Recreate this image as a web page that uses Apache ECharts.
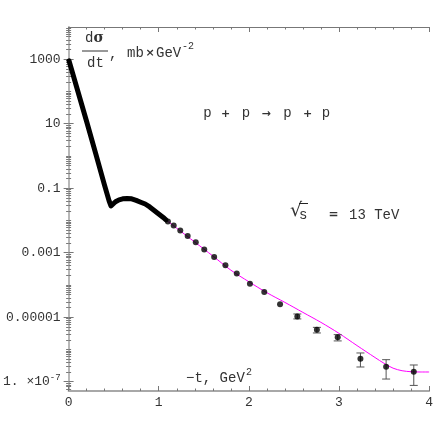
<!DOCTYPE html>
<html><head><meta charset="utf-8">
<script src="https://cdn.jsdelivr.net/npm/echarts@6/dist/echarts.min.js"></script>
<style>html,body{margin:0;padding:0;background:#fff}#c{width:436px;height:436px}</style>
</head><body><div id="c"></div>
<script>
// dense measured curve (thick black)
const denseT = [0.005,0.1,0.2,0.3,0.4,0.45,0.47,0.49,0.52,0.56,0.6,0.65,0.7,0.75,0.8,0.85,0.9,0.95,1.0,1.05,1.08];
const denseY = [891,107,11.7,1.2,0.120,0.0398,0.0282,0.0316,0.0380,0.0437,0.0468,0.0482,0.0468,0.0420,0.0368,0.0324,0.0263,0.0205,0.0160,0.0124,0.0105];
// discrete data points
const pointT = [1.102,1.166,1.239,1.321,1.411,1.505,1.615,1.740,1.866,2.012,2.171,2.346,2.538,2.755,2.986,3.238,3.523,3.830];
const pointY = [0.00931,0.0070,0.00489,0.00330,0.00212,0.00126,7.35e-4,4.09e-4,2.26e-4,1.10e-4,6.1e-5,2.52e-5,1.06e-5,4.06e-6,2.38e-6,5.18e-7,2.92e-7,2.05e-7];
// error bars (only where visible)
const errT    = [2.538,2.755,2.986,3.238,3.523,3.830];
const errLow  = [8.85e-6,3.25e-6,1.84e-6,2.86e-7,1.21e-7,7.67e-8];
const errHigh = [1.26e-5,4.85e-6,2.88e-6,7.78e-7,4.82e-7,3.30e-7];
// model curve (magenta)
const modelT = [1.0,1.2,1.4,1.6,1.8,2.0,2.2,2.4,2.6,2.8,3.0,3.2,3.4,3.5,3.6,3.7,3.8,3.9,4.0];
const modelY = [0.0158,0.00575,0.00214,7.94e-4,2.88e-4,1.26e-4,5.75e-5,2.88e-5,1.41e-5,6.92e-6,3.16e-6,1.32e-6,5.62e-7,3.72e-7,2.63e-7,2.19e-7,2.04e-7,2.0e-7,2.0e-7];
// ticks
const xTickValues = [0,1,2,3,4];
const xTickLabels = ['0','1','2','3','4'];
const yTickValues = [1e3,10,0.1,1e-3,1e-5,1e-7];
const yTickLabels = ['1000','10','0.1','0.001','0.00001','1. ×10{s|-7}'];
const yMin = 5.15e-8, yMax = 1e4;

const xMinor = [];
for (let i = 1; i < 20; i++) { if (i % 5) xMinor.push(i * 0.2); }
const yMinor = [];
for (let n = -8; n <= 3; n++) {
  for (let k = 1; k <= 9; k++) {
    const v = k * Math.pow(10, n);
    if (k === 1 && yTickValues.some(t => Math.abs(Math.log10(t) - n) < 1e-9)) continue;
    if (v >= yMin && v <= yMax) yMinor.push(v);
  }
}

const FONT = '"Liberation Mono", "DejaVu Sans Mono", monospace';
const txtColor = '#333';
function yLabel(v) {
  const e = Math.round(Math.log10(v));
  const i = yTickValues.findIndex(t => Math.round(Math.log10(t)) === e);
  return i >= 0 ? yTickLabels[i] : '';
}
function xLabel(v) {
  const i = xTickValues.findIndex(t => Math.abs(t - v) < 1e-9);
  return i >= 0 ? xTickLabels[i] : '';
}
function mkX(pos, major, lineStyle) {
  return {
    type: 'value', min: 0, max: 4, position: pos, gridIndex: 0,
    axisLine: lineStyle ? { show: true, lineStyle } : { show: false },
    axisTick: { show: true, inside: true, length: major ? 5 : 2.5, customValues: major ? xTickValues : xMinor, lineStyle: { color: '#777', width: 1 } },
    axisLabel: (major && pos === 'bottom') ? { show: true, customValues: xTickValues, formatter: xLabel, margin: 5, fontFamily: FONT, fontSize: 13, color: txtColor } : { show: false },
    splitLine: { show: false }
  };
}
function mkY(pos, major, lineStyle) {
  return {
    type: 'log', logBase: 10, min: yMin, max: yMax, position: pos, gridIndex: 0,
    axisLine: lineStyle ? { show: true, lineStyle } : { show: false },
    axisTick: { show: true, inside: true, length: major ? 5 : 2.5, customValues: major ? yTickValues : yMinor, lineStyle: { color: '#777', width: 1 } },
    axisLabel: (major && pos === 'left') ? {
      show: true, customValues: yTickValues, formatter: yLabel, margin: 8,
      fontFamily: FONT, fontSize: 13, color: txtColor,
      rich: { s: { fontFamily: FONT, fontSize: 9, color: txtColor, verticalAlign: 'top', lineHeight: 18 } }
    } : { show: false },
    splitLine: { show: false }
  };
}
function tok(text, cx, cy, size, family, weight) {
  return { type: 'text', x: cx, y: cy, style: { text, fill: txtColor, align: 'center', verticalAlign: 'middle',
    font: (weight || 'normal') + ' ' + size + 'px ' + (family || FONT) } };
}

const chart = echarts.init(document.getElementById('c'), null, { renderer: 'canvas' });
chart.setOption({
  animation: false,
  backgroundColor: '#fff',
  grid: { left: 67, right: 4, top: 27, bottom: 45, containLabel: false },
  xAxis: [
    mkX('bottom', true, { color: '#a8a8a8', width: 2 }),
    mkX('bottom', false, null),
    mkX('top', true, { color: '#777', width: 1 }),
    mkX('top', false, null)
  ],
  yAxis: [
    mkY('left', true, { color: '#888', width: 1 }),
    mkY('left', false, null),
    mkY('right', true, { color: '#b8b8b8', width: 2 }),
    mkY('right', false, null)
  ],
  series: [
    {
      type: 'line', xAxisIndex: 0, yAxisIndex: 0, z: 2,
      data: modelT.map((t, i) => [t, modelY[i]]),
      showSymbol: false, smooth: 0.3,
      lineStyle: { color: '#ff00ff', width: 1 }
    },
    {
      type: 'line', xAxisIndex: 0, yAxisIndex: 0, z: 3,
      data: denseT.map((t, i) => [t, denseY[i]]),
      showSymbol: false, smooth: false,
      lineStyle: { color: '#000', width: 5, cap: 'round', join: 'round' }
    },
    {
      type: 'custom', xAxisIndex: 0, yAxisIndex: 0, z: 4,
      data: errT.map((t, i) => [t, errLow[i], errHigh[i]]),
      encode: { x: 0, y: [1, 2] },
      renderItem: function (params, api) {
        const x = api.value(0);
        const p1 = api.coord([x, api.value(1)]);
        const p2 = api.coord([x, api.value(2)]);
        const w = 4;
        const st = { stroke: '#555', lineWidth: 1 };
        return {
          type: 'group', children: [
            { type: 'line', shape: { x1: p1[0], y1: p1[1], x2: p2[0], y2: p2[1] }, style: st },
            { type: 'line', shape: { x1: p1[0] - w, y1: p1[1], x2: p1[0] + w, y2: p1[1] }, style: st },
            { type: 'line', shape: { x1: p2[0] - w, y1: p2[1], x2: p2[0] + w, y2: p2[1] }, style: st }
          ]
        };
      }
    },
    {
      type: 'scatter', xAxisIndex: 0, yAxisIndex: 0, z: 5,
      data: pointT.map((t, i) => [t, pointY[i]]),
      symbol: 'circle', symbolSize: 6,
      itemStyle: { color: '#000' }
    }
  ],
  graphic: [
    { type: 'text', x: 85, y: 38, style: { text: '{n|d}{g|σ}', fill: txtColor, verticalAlign: 'middle',
      rich: { n: { fontFamily: FONT, fontSize: 14, fill: txtColor }, g: { fontFamily: '"DejaVu Serif", serif', fontSize: 14, fontWeight: 'bold', fill: txtColor } } } },
    { type: 'line', shape: { x1: 82, y1: 51, x2: 108, y2: 51 }, style: { stroke: '#333', lineWidth: 1 } },
    { type: 'text', x: 87, y: 63, style: { text: 'dt', font: '14px ' + FONT, fill: txtColor, verticalAlign: 'middle' } },
    { type: 'text', x: 109, y: 54, style: { text: ',', font: '14px ' + FONT, fill: txtColor, verticalAlign: 'middle' } },
    { type: 'text', x: 127, y: 53, style: { text: 'mb', font: '14px ' + FONT, fill: txtColor, verticalAlign: 'middle' } },
    tok('×', 150, 53, 11, '"DejaVu Sans"', 'bold'),
    { type: 'text', x: 156, y: 53, style: { text: 'GeV', font: '14px ' + FONT, fill: txtColor, verticalAlign: 'middle' } },
    { type: 'text', x: 182, y: 46, style: { text: '-2', font: '10px ' + FONT, fill: txtColor, verticalAlign: 'middle' } },
    tok('p', 207.5, 113, 14), tok('+', 225.5, 114, 11, '"DejaVu Sans"', 'bold'), tok('p', 246, 113, 14),
    tok('→', 266, 114, 11, '"DejaVu Sans"', 'bold'),
    tok('p', 287.5, 113, 14), tok('+', 307.5, 114, 11, '"DejaVu Sans"', 'bold'), tok('p', 326, 113, 14),
    { type: 'text', x: 290, y: 211, style: { text: '√', font: '19px "DejaVu Sans"', fill: txtColor, verticalAlign: 'middle' } },
    { type: 'line', shape: { x1: 299, y1: 203.5, x2: 308, y2: 203.5 }, style: { stroke: '#222', lineWidth: 1 } },
    { type: 'text', x: 299, y: 215, style: { text: 's', font: '14px ' + FONT, fill: txtColor, verticalAlign: 'middle' } },
    tok('=', 333.5, 215, 12, '"DejaVu Sans"', 'bold'),
    { type: 'text', x: 349, y: 215, style: { text: '13 TeV', font: '14px ' + FONT, fill: txtColor, verticalAlign: 'middle' } },
    { type: 'text', x: 186, y: 378, style: { text: '−t, GeV', font: '14px ' + FONT, fill: txtColor, verticalAlign: 'middle' } },
    { type: 'text', x: 246, y: 372, style: { text: '2', font: '10px ' + FONT, fill: txtColor, verticalAlign: 'middle' } }
  ]
});
</script></body></html>
